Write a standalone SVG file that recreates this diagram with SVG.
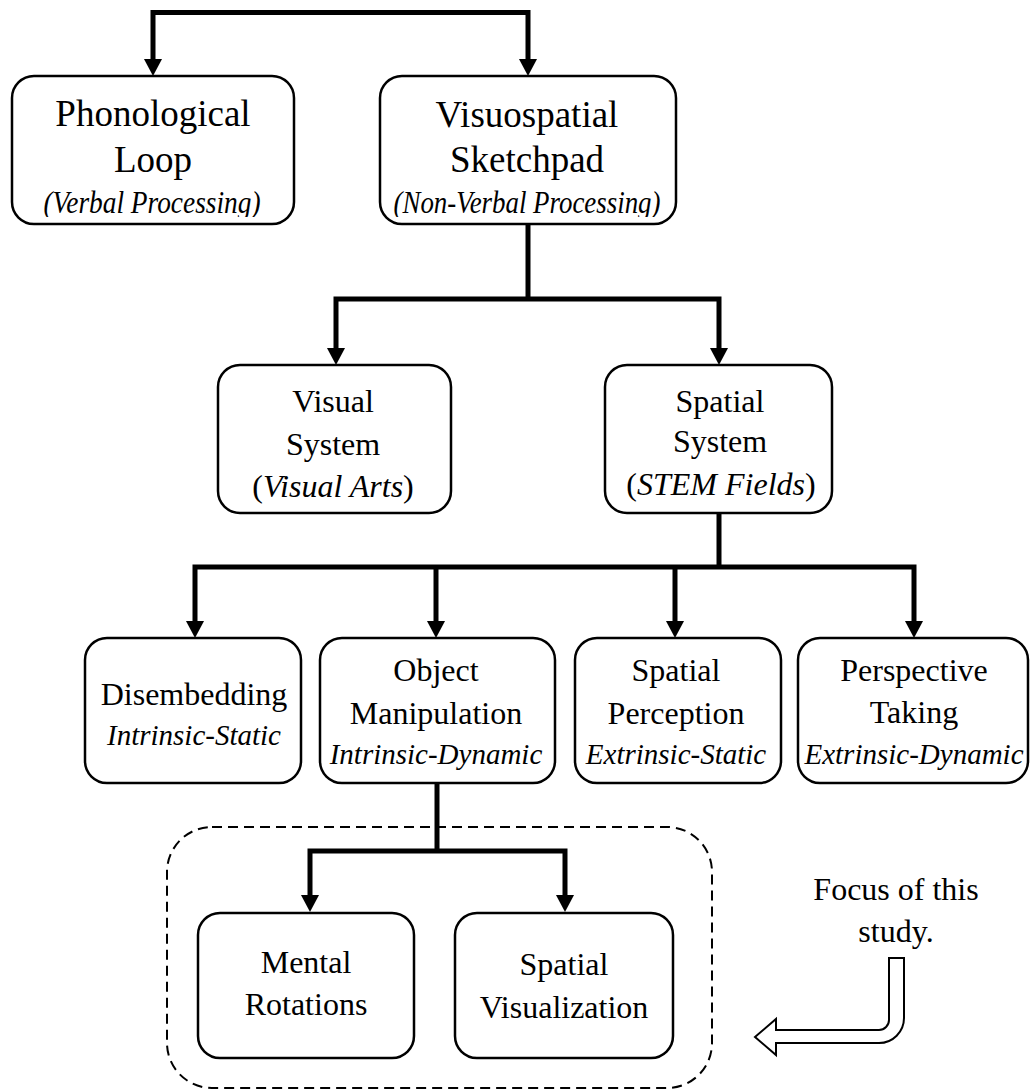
<svg xmlns="http://www.w3.org/2000/svg" width="1030" height="1089" viewBox="0 0 1030 1089" font-family="'Liberation Serif', 'Times New Roman', 'DejaVu Serif', serif">
<style>
  text { font-family: 'Liberation Serif', 'Times New Roman', 'DejaVu Serif', serif; fill: #000; text-anchor: middle; }
  .big { font-size: 37px; }
  .mid { font-size: 32px; }
  .it { font-style: italic; }
  .sub { font-size: 31px; font-style: italic; }
  .sub4 { font-size: 29px; font-style: italic; }
  .box { fill: #fff; stroke: #000; stroke-width: 2.5; }
  .conn { fill: none; stroke: #000; stroke-width: 5; stroke-linejoin: miter; }
  .dash { fill: none; stroke: #000; stroke-width: 2; stroke-dasharray: 10 6; }
  .hollow { fill: #fff; stroke: #000; stroke-width: 2; stroke-linejoin: miter; }
</style>
<defs>
  <marker id="ah" viewBox="0 -9 17 18" refX="5" refY="0" markerWidth="17" markerHeight="18" markerUnits="userSpaceOnUse" orient="auto-start-reverse" overflow="visible">
    <path d="M0,-9 L17,0 L0,9 Z" fill="#000"/>
  </marker>
  <clipPath id="clipTop"><rect x="0" y="0" width="1030" height="217"/></clipPath>
</defs>

<rect class="dash" x="167" y="827" width="545" height="261" rx="45" ry="45"/>

<g id="connectors">
  <path class="conn" d="M153,64 V12.5 H528 V64" marker-start="url(#ah)" marker-end="url(#ah)"/>
  <path class="conn" d="M528,224 V299"/>
  <path class="conn" d="M336,353 V299 H719 V353" marker-start="url(#ah)" marker-end="url(#ah)"/>
  <path class="conn" d="M719,513 V567"/>
  <path class="conn" d="M195,626 V567 H914 V626" marker-start="url(#ah)" marker-end="url(#ah)"/>
  <path class="conn" d="M436,567 V626" marker-end="url(#ah)"/>
  <path class="conn" d="M675,567 V626" marker-end="url(#ah)"/>
  <path class="conn" d="M437,783 V851"/>
  <path class="conn" d="M310,900 V851 H565 V900" marker-start="url(#ah)" marker-end="url(#ah)"/>
</g>

<g id="phonological">
  <rect class="box" x="12" y="76" width="282" height="148" rx="22"/>
  <text class="big" x="153" y="126">Phonological</text>
  <text class="big" x="153" y="172">Loop</text>
  <text class="sub" x="152" y="213" textLength="217" lengthAdjust="spacingAndGlyphs" clip-path="url(#clipTop)">(Verbal Processing)</text>
</g>

<g id="visuospatial">
  <rect class="box" x="380" y="76" width="296" height="148" rx="22"/>
  <text class="big" x="527" y="127">Visuospatial</text>
  <text class="big" x="527" y="172">Sketchpad</text>
  <text class="sub" x="527" y="213" textLength="267" lengthAdjust="spacingAndGlyphs" clip-path="url(#clipTop)">(Non-Verbal Processing)</text>
</g>

<g id="visual">
  <rect class="box" x="218" y="365" width="233" height="148" rx="22"/>
  <text class="mid" x="333" y="412">Visual</text>
  <text class="mid" x="333" y="455">System</text>
  <text class="mid" x="333" y="497">(<tspan class="it">Visual Arts</tspan>)</text>
</g>

<g id="spatial-system">
  <rect class="box" x="605" y="365" width="227" height="148" rx="22"/>
  <text class="mid" x="720" y="412">Spatial</text>
  <text class="mid" x="720" y="452">System</text>
  <text class="mid" x="721" y="495">(<tspan class="it">STEM Fields</tspan>)</text>
</g>

<g id="disembedding">
  <rect class="box" x="85" y="638" width="216" height="145" rx="22"/>
  <text class="mid" x="194" y="705">Disembedding</text>
  <text class="sub4" x="194" y="745">Intrinsic-Static</text>
</g>

<g id="object-manipulation">
  <rect class="box" x="320" y="638" width="235" height="145" rx="22"/>
  <text class="mid" x="436" y="681">Object</text>
  <text class="mid" x="436" y="724">Manipulation</text>
  <text class="sub4" x="436" y="764">Intrinsic-Dynamic</text>
</g>

<g id="spatial-perception">
  <rect class="box" x="575" y="638" width="206" height="145" rx="22"/>
  <text class="mid" x="676" y="681">Spatial</text>
  <text class="mid" x="676" y="724">Perception</text>
  <text class="sub4" x="676" y="764">Extrinsic-Static</text>
</g>

<g id="perspective-taking">
  <rect class="box" x="798" y="638" width="230" height="145" rx="22"/>
  <text class="mid" x="914" y="681">Perspective</text>
  <text class="mid" x="914" y="723">Taking</text>
  <text class="sub4" x="914" y="764">Extrinsic-Dynamic</text>
</g>

<g id="mental-rotations">
  <rect class="box" x="198" y="913" width="216" height="145" rx="22"/>
  <text class="mid" x="306" y="973">Mental</text>
  <text class="mid" x="306" y="1015">Rotations</text>
</g>

<g id="spatial-visualization">
  <rect class="box" x="455" y="913" width="218" height="145" rx="22"/>
  <text class="mid" x="564" y="975">Spatial</text>
  <text class="mid" x="564" y="1018">Visualization</text>
</g>

<g id="focus-note">
  <text class="mid" x="896" y="900">Focus of this</text>
  <text class="mid" x="896" y="942">study.</text>
  <path class="hollow" d="M889,958 H904 V1018 A25,25 0 0 1 879,1043 H776 V1055 L755,1037 L776,1019 V1030 H879 A10,10 0 0 0 889,1020 Z"/>
</g>
</svg>
